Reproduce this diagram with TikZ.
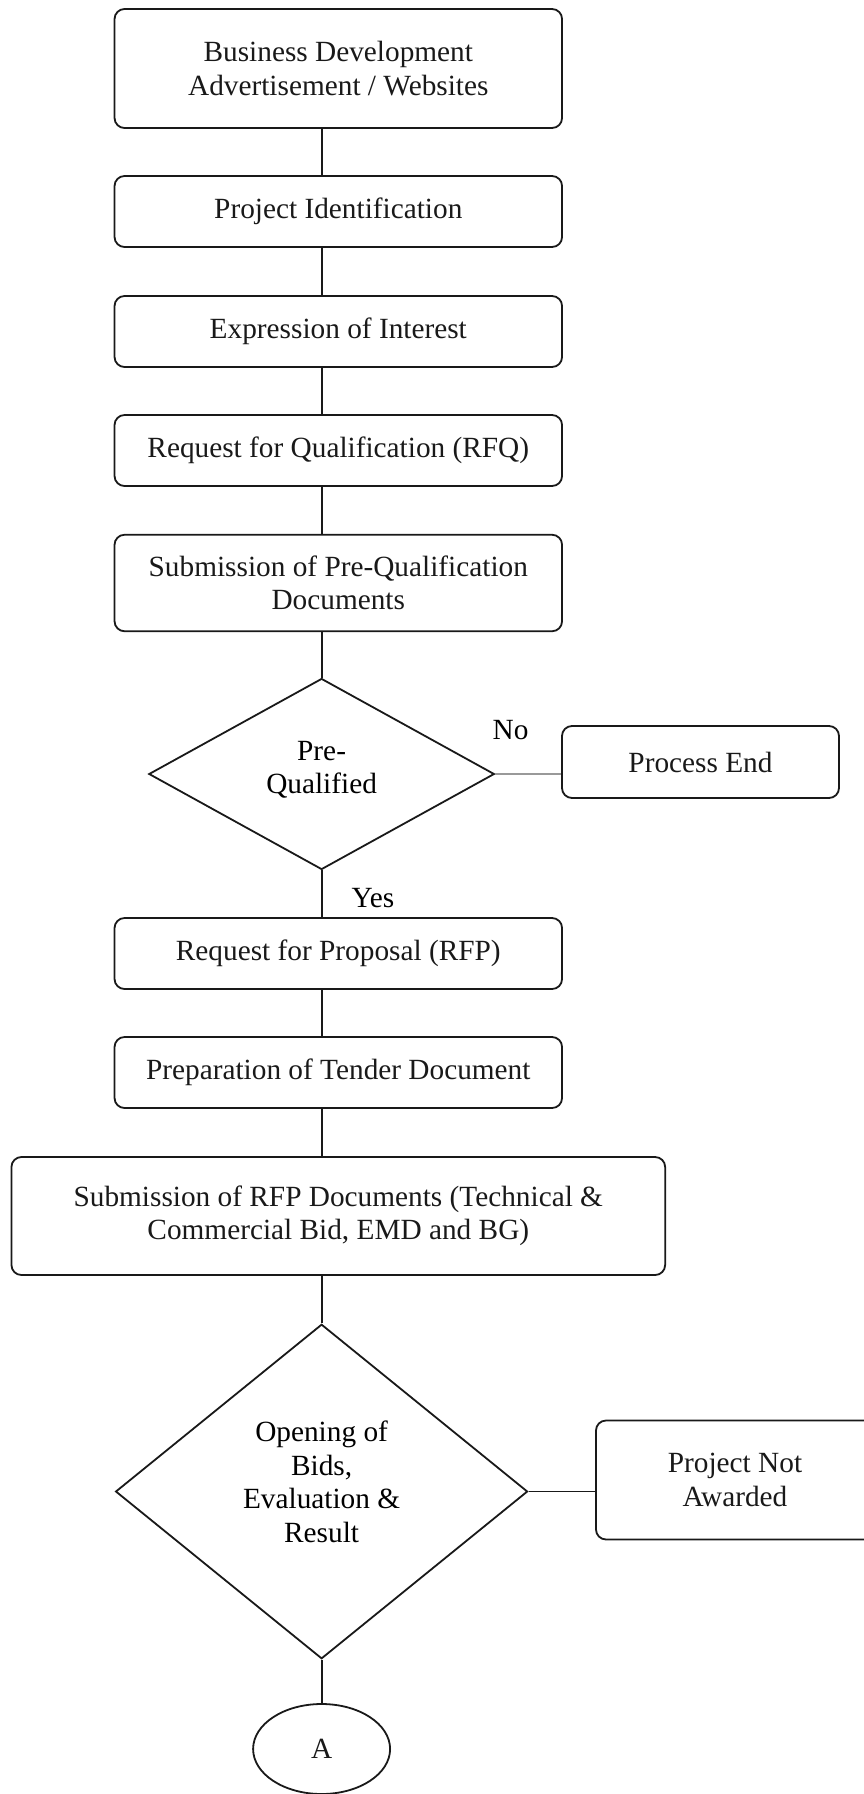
\documentclass[tikz,border=0pt]{standalone}
\usepackage{fontspec}
\setmainfont{Liberation Serif}
\usetikzlibrary{shapes.geometric}
\begin{document}
\begin{tikzpicture}[x=1pt,y=-1pt,
  every node/.style={font=\fontsize{29.3}{33.5}\selectfont},
  line/.style={line width=1.8pt,black!90},
  box/.style={draw,line,rounded corners=10pt,align=center,inner sep=0pt,
    minimum width=447.5pt,minimum height=71pt},
  decide/.style={draw,line,diamond,align=center,inner sep=0pt}]
\useasboundingbox (0,0) rectangle (863,1794);
\node[box,minimum height=119pt] (1) at (338.3,68.5) {Business Development\\Advertisement / Websites};
\node[box] (2) at (338.3,211.5) {Project Identification};
\node[box] (3) at (338.3,331.5) {Expression of Interest};
\node[box] (4) at (338.3,450.5) {Request for Qualification (RFQ)};
\node[box,minimum height=96.5pt] (5) at (338.3,583) {Submission of Pre-Qualification\\Documents};
\node[decide,minimum width=345.5pt,minimum height=191pt] (6) at (321.6,774) {};
\node[align=center] (6t) at (321.6,770) {Pre-\\Qualified};
\node[box,minimum width=277pt,minimum height=72pt] (7) at (700.5,762) {Process End};
\node[box] (8) at (338.3,953.5) {Request for Proposal (RFP)};
\node[box] (9) at (338.3,1072.5) {Preparation of Tender Document};
\node[box,minimum width=653.7pt,minimum height=118pt] (10) at (338.3,1216) {Submission of RFP Documents (Technical \&\\Commercial Bid, EMD and BG)};
\node[decide,minimum width=412pt,minimum height=334.5pt] (11) at (321.6,1491.5) {};
\node[align=center] (11t) at (321.6,1482) {Opening of\\Bids,\\Evaluation \&\\Result};
\node[box,minimum width=278pt,minimum height=119pt] (12) at (735,1480) {Project Not\\Awarded};
\node[draw,line,ellipse,inner sep=0pt,minimum width=137pt,minimum height=90pt] (13) at (321.6,1749) {A};
\node (14) at (510.5,730) {No};
\node (15) at (373,898.5) {Yes};

\path[draw,line] (1.south -| 6.north)--(2.north -| 6.north);
\path[draw,line] (2.south -| 6.north)--(3.north -| 6.north);
\path[draw,line] (3.south -| 6.north)--(4.north -| 6.north);
\path[draw,line] (4.south -| 6.north)--(5.north -| 6.north);
\path[draw,line] (5.south -| 6.north)--(6.north);
\path[draw,line,line width=1.2pt,black!40] (6.east)--(6.east -| 7.west);
\path[draw,line] (6.south)--(8.north -| 6.south);
\path[draw,line] (8.south -| 6.north)--(9.north -| 6.north);
\path[draw,line] (9.south -| 6.north)--(10.north -| 6.north);
\path[draw,line] (10.south -| 11.north)--(11.north);
\path[draw,line] (11.east)--(11.east -| 12.west);
\path[draw,line] (11.south)--(13.north);
\end{tikzpicture}
\end{document}
